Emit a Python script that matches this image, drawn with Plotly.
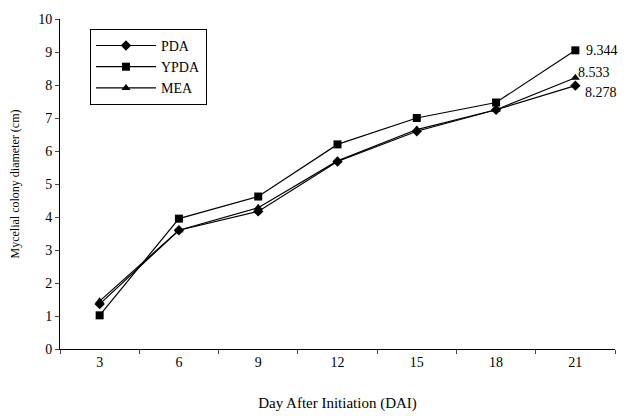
import plotly.graph_objects as go

days = ["3", "6", "9", "12", "15", "18", "21"]
pda = [1.36, 3.6, 4.17, 5.68, 6.6, 7.25, 7.98]
ypda = [1.02, 3.95, 4.62, 6.2, 7.0, 7.47, 9.05]
mea = [1.45, 3.6, 4.28, 5.7, 6.65, 7.25, 8.22]
end_labels = ["8.278", "9.344", "8.533"]

font = "Liberation Serif"
fig = go.Figure()
for name, vals, sym in [("PDA", pda, "diamond"), ("YPDA", ypda, "square"), ("MEA", mea, "triangle-up")]:
    fig.add_trace(go.Scatter(
        x=days, y=vals, name=name, mode="lines+markers",
        line=dict(color="black", width=1.2),
        marker=dict(symbol=sym, size=8, color="black"),
    ))

last = len(days) - 1
afont = dict(family=font, size=14, color="black")
fig.add_annotation(x=last, y=pda[-1], text=end_labels[0], xanchor="left", yanchor="middle",
                   xshift=8, yshift=-7, showarrow=False, font=afont)
fig.add_annotation(x=last, y=ypda[-1], text=end_labels[1], xanchor="left", yanchor="middle",
                   xshift=9, showarrow=False, font=afont)
fig.add_annotation(x=last, y=mea[-1], text=end_labels[2], xanchor="left", yanchor="middle",
                   xshift=1, yshift=5, showarrow=False, font=afont)

fig.update_layout(
    width=628, height=420,
    margin=dict(l=60, r=13, t=12, b=71),
    paper_bgcolor="white", plot_bgcolor="white",
    font=dict(family=font, size=14, color="black"),
    showlegend=True,
    legend=dict(x=0.054, y=0.97, xanchor="left", yanchor="top",
                bordercolor="black", borderwidth=1, bgcolor="white",
                font=dict(family=font, size=14), tracegroupgap=0, itemwidth=60),
    xaxis=dict(type="category", tickson="boundaries", ticks="outside", ticklen=4,
               showline=True, linecolor="black", linewidth=1, showgrid=False,
               range=[-0.5, 6.5],
               title=dict(text="Day After Initiation (DAI)", font=dict(family=font, size=15), standoff=28)),
    yaxis=dict(range=[0, 10], dtick=1, ticks="outside", ticklen=4,
               showline=True, linecolor="black", linewidth=1, showgrid=False, zeroline=False,
               title=dict(text="Mycelial colony diameter (cm)", font=dict(family=font, size=12), standoff=16)),
)

fig.write_html("out.html", config={"displayModeBar": False},
               post_script="document.body.style.margin='0';")
